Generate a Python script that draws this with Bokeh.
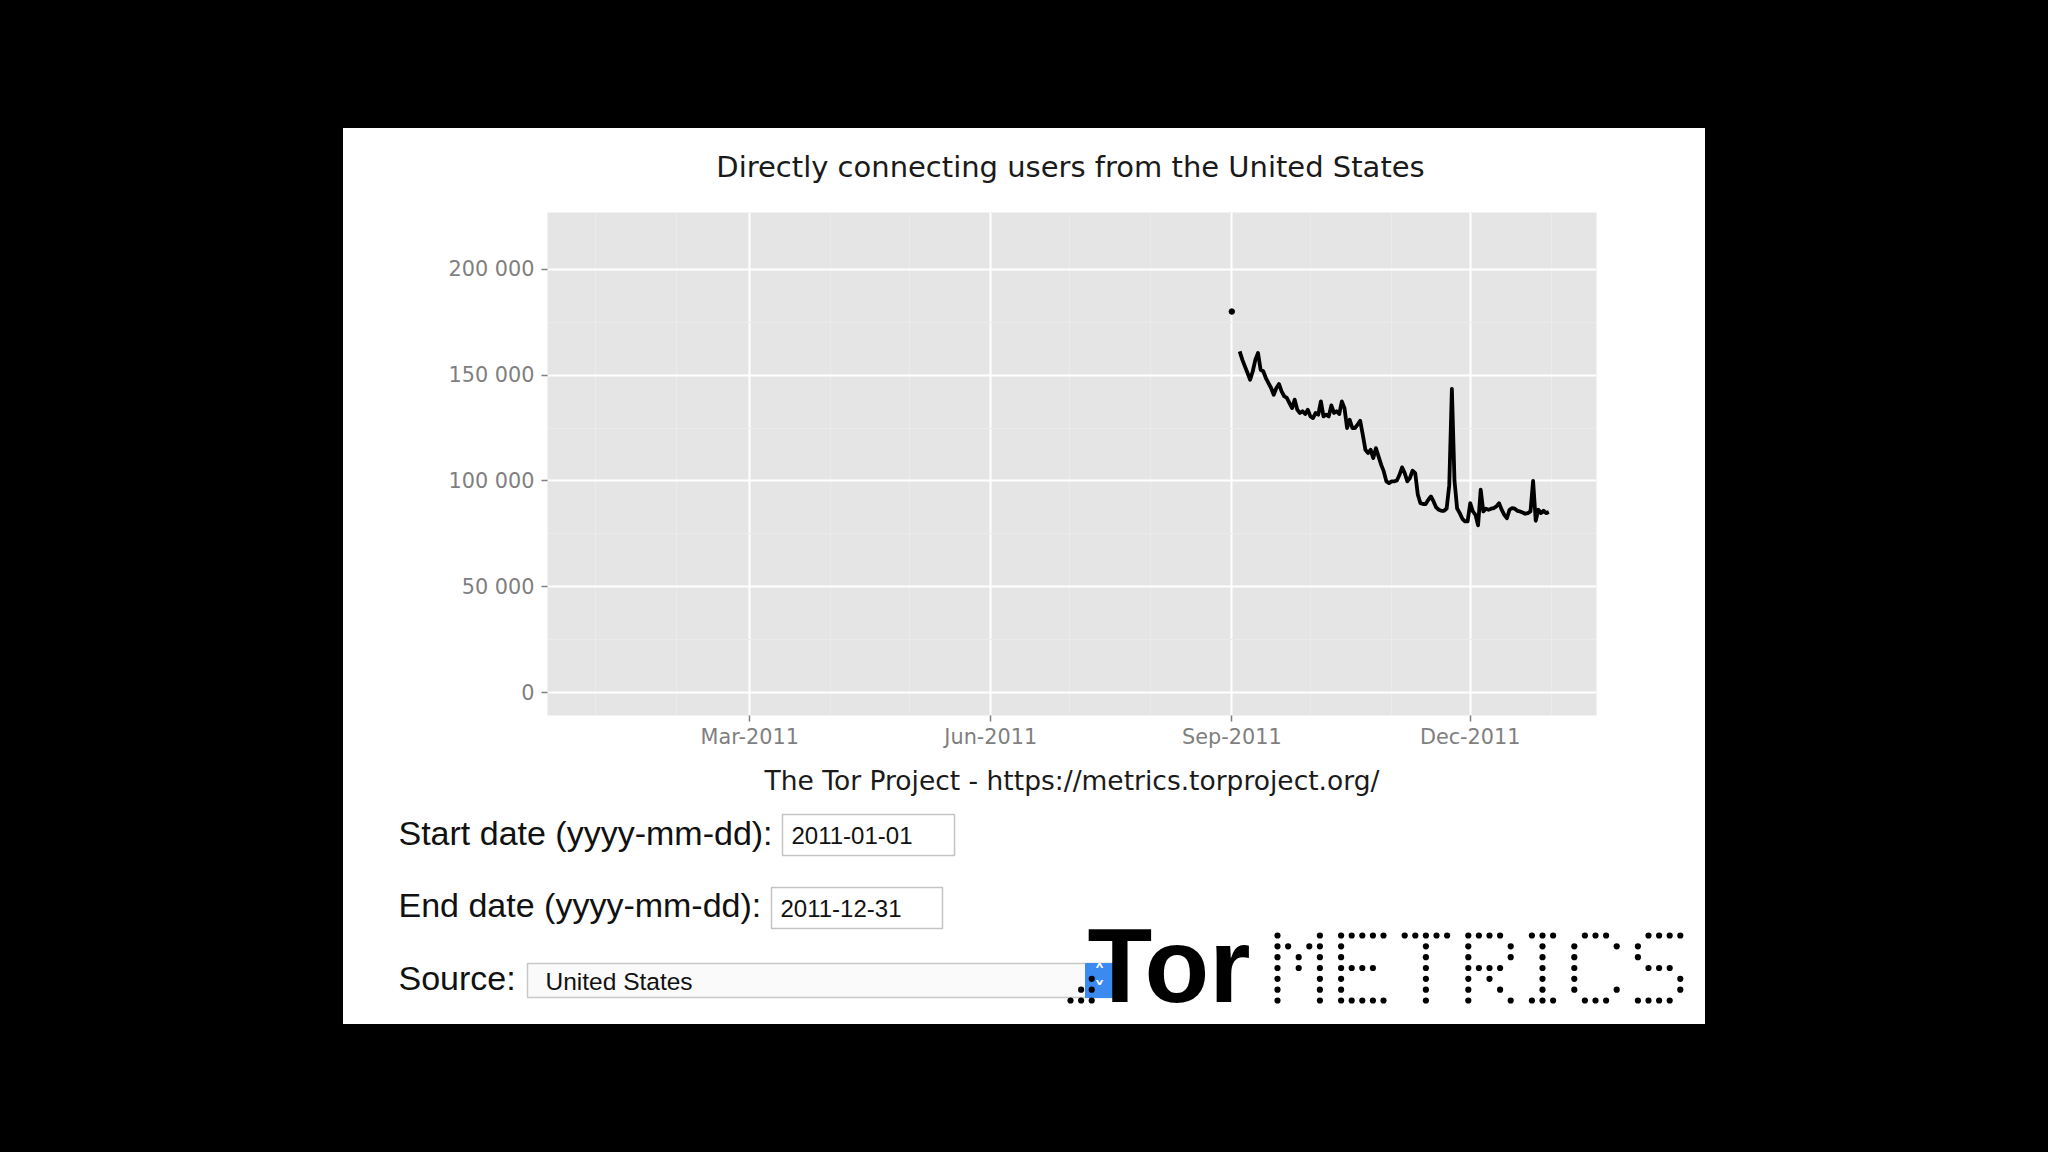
import math
from datetime import datetime

from bokeh.plotting import figure
from bokeh.layouts import column
from bokeh.models import (Range1d, FixedTicker, DatetimeTickFormatter, Label,
                          GlobalInlineStyleSheet)
from bokeh.embed import file_html
from bokeh.resources import INLINE

# ---------------- data ----------------
title_text = "Directly connecting users from the United States"
caption_text = "The Tor Project - https://metrics.torproject.org/"
start_date = "2011-01-01"
end_date = "2011-12-31"
source_name = "United States"

first_day = "2011-09-01"
NA = float("nan")
users = [
    180000, NA, NA, 161200, 157300, 154100, 151000, 147800, 151800, 157300,
    160400, 152500, 151800, 148600, 146200, 143900, 140700, 143900, 145800, 142300,
    140000, 139200, 136800, 134400, 138400, 133600, 132100, 132900, 131600, 133600,
    130500, 129700, 132100, 131300, 137600, 130500, 131300, 130500, 135700, 132100,
    132900, 131600, 137600, 134400, 125000, 128900, 125000, 125000, 126600, 128400,
    121800, 114700, 113200, 114700, 110800, 115500, 111600, 107700, 104500, 99800,
    99000, 99800, 99800, 100200, 102900, 106400, 103700, 99800, 101400, 104800,
    103700, 93500, 89500, 89100, 89100, 91100, 92700, 90300, 87500, 86400,
    85900, 85900, 87000, 98000, 143500, 100000, 87000, 84800, 82100, 80900,
    80900, 89500, 85600, 84000, 79000, 95900, 85600, 86900, 86400, 86900,
    87200, 88000, 89500, 86400, 84000, 82400, 86400, 87200, 86900, 85900,
    85600, 85100, 84500, 84800, 85600, 100000, 81200, 86400, 84800, 85900,
    84800, 85300,
]

y_ticks = [0, 50000, 100000, 150000, 200000]
y_tick_labels = ["0", "50 000", "100 000", "150 000", "200 000"]
y_minor_ticks = [25000, 75000, 125000, 175000]

x_ticks = ["2011-03-01", "2011-06-01", "2011-09-01", "2011-12-01"]
x_tick_labels = ["Mar-2011", "Jun-2011", "Sep-2011", "Dec-2011"]
x_minor_ticks = ["2011-01-01", "2011-02-01", "2011-04-01", "2011-05-01",
                 "2011-07-01", "2011-08-01", "2011-10-01", "2011-11-01",
                 "2012-01-01"]


def ms(s):
    return (datetime.strptime(s, "%Y-%m-%d") - datetime(1970, 1, 1)).total_seconds() * 1000.0


DAY = 86400000.0
d0 = ms(first_day)
xs = [d0 + i * DAY for i in range(len(users))]

# ggplot-like ranges (5 % expansion)
span = ms(end_date) - ms(start_date)
x0, x1 = ms(start_date) - 0.05 * span, ms(end_date) + 0.05 * span
ymax = 1.2 * max(v for v in users if not math.isnan(v))
y0, y1 = -0.05 * ymax, 1.05 * ymax

W = 1362
OX, OY = 343, 128  # page position of the white panel
HT = 84            # title strip height
H1 = 596           # chart figure height
FL, FR, FB = 204, 109, 93


def strip(height, top):
    f = figure(width=W, height=height, x_range=Range1d(OX, OX + W),
               y_range=Range1d(top + height, top),
               output_backend="svg", toolbar_location=None,
               x_axis_location=None, y_axis_location=None,
               min_border=0, min_border_left=0, min_border_right=0,
               min_border_top=0, min_border_bottom=0,
               background_fill_color="white", border_fill_color="white",
               frame_align=False)
    f.outline_line_color = None
    f.grid.visible = False
    return f


def lab(f, px, py, text, size, font="Liberation Sans", color="#111111",
        align="left", baseline="middle", style="normal"):
    f.add_layout(Label(x=px, y=py, text=text, text_font=font,
                       text_font_size=f"{size}px", text_color=color,
                       text_align=align, text_baseline=baseline,
                       text_font_style=style))


# ---------------- title strip ----------------
t = strip(HT, OY)
lab(t, 1070, 166, title_text, 29, font="DejaVu Sans", color="#1a1a1a", align="center")

# ---------------- chart figure ----------------
p = figure(width=W, height=H1, x_axis_type="datetime",
           x_range=Range1d(x0, x1), y_range=Range1d(y0, y1),
           output_backend="svg", toolbar_location=None,
           min_border_left=FL, min_border_top=0,
           min_border_right=FR, min_border_bottom=FB,
           background_fill_color="#E5E5E5", border_fill_color="white",
           frame_align=False)
p.outline_line_color = None

xa, ya = p.xaxis[0], p.yaxis[0]
xa.ticker = FixedTicker(ticks=[ms(v) for v in x_ticks],
                        minor_ticks=[ms(v) for v in x_minor_ticks])
fmt = "%b-%Y"
xa.formatter = DatetimeTickFormatter(milliseconds=fmt, seconds=fmt, minsec=fmt,
                                     minutes=fmt, hourmin=fmt, hours=fmt, days=fmt,
                                     months=fmt, years=fmt)
xa.major_label_overrides = {ms(v): l for v, l in zip(x_ticks, x_tick_labels)}
ya.ticker = FixedTicker(ticks=y_ticks, minor_ticks=y_minor_ticks)
ya.major_label_overrides = {v: l for v, l in zip(y_ticks, y_tick_labels)}

for ax in (xa, ya):
    ax.axis_line_color = None
    ax.major_tick_line_color = "#7F7F7F"
    ax.major_tick_line_width = 1.5
    ax.major_tick_out = 6
    ax.major_tick_in = 0
    ax.minor_tick_line_color = None
    ax.major_label_text_color = "#7F7F7F"
    ax.major_label_text_font = "DejaVu Sans"
    ax.major_label_text_font_size = "20.8px"
xa.major_label_standoff = 3
ya.major_label_standoff = 7

xa.axis_label = caption_text
xa.axis_label_text_font = "DejaVu Sans"
xa.axis_label_text_font_size = "26.5px"
xa.axis_label_text_font_style = "normal"
xa.axis_label_text_color = "#1a1a1a"
xa.axis_label_standoff = 13

for g in (p.xgrid[0], p.ygrid[0]):
    g.grid_line_color = "white"
    g.grid_line_width = 2
    g.minor_grid_line_color = "#EBEBEB"
    g.minor_grid_line_width = 1.2

p.line(x=xs, y=users, line_color="black", line_width=3.8, line_join="round")
iso = [i for i in range(len(users)) if not math.isnan(users[i])
       and (i == 0 or math.isnan(users[i - 1]))
       and (i == len(users) - 1 or math.isnan(users[i + 1]))]
p.scatter(x=[xs[i] for i in iso], y=[users[i] for i in iso], size=5.5,
          fill_color="black", line_color="black")

# ---------------- form / logo strip (page-pixel coordinates) ----------------
Y2 = OY + HT + H1
H2 = 1024 - Y2
q = strip(H2, Y2)


def box(l, tp, r, b, fill="white", line="#C4C4C4", lw=1.5):
    q.quad(left=l, right=r, top=tp, bottom=b, fill_color=fill,
           line_color=line, line_width=lw)


box(782, 814, 954, 855)
box(771, 887, 942, 928)
box(527, 963, 1113, 997, fill="#FAFAFA", line="#C8C8C8")
box(1085, 963, 1113, 997, fill="#3B8AF0", line="#3B8AF0", lw=1)

lab(q, 398, 832, "Start date (yyyy-mm-dd):", 34)
lab(q, 791, 835, start_date, 24)
lab(q, 398, 904, "End date (yyyy-mm-dd):", 34)
lab(q, 780, 908, end_date, 24)
lab(q, 398, 977, "Source:", 34)
lab(q, 545, 981, source_name, 24.5)
lab(q, 1099, 972, "\u02C4", 22, font="DejaVu Sans", color="white", align="center", style="bold")
lab(q, 1099, 989, "\u02C5", 22, font="DejaVu Sans", color="white", align="center", style="bold")

# logo: dotted "." + bold "Tor" + dot-matrix "METRICS"
PX, PY = 10.6, 10.83
glyphs = {
    "M": ["x...x", "xx.xx", "x.x.x", "x.x.x", "x...x", "x...x", "x...x"],
    "E": ["xxxxx", "x....", "x....", "xxxx.", "x....", "x....", "xxxxx"],
    "T": ["xxxxx", "..x..", "..x..", "..x..", "..x..", "..x..", "..x.."],
    "R": ["xxxx.", "x...x", "x...x", "xxxx.", "x.x..", "x..x.", "x...x"],
    "I": ["xxx", ".x.", ".x.", ".x.", ".x.", ".x.", "xxx"],
    "C": [".xxx.", "x...x", "x....", "x....", "x....", "x...x", ".xxx."],
    "S": [".xxxx", "x....", "x....", ".xxx.", "....x", "....x", "xxxx."],
}
dots_x, dots_y = [], []
tri = ["..x", ".xx", "xxx"]
for r, row in enumerate(tri):
    for c, ch in enumerate(row):
        if ch == "x":
            dots_x.append(1070 + c * PX)
            dots_y.append(935 + (r + 4) * PY)
for r in range(7):
    row = ".".join(glyphs[ch][r] for ch in "METRICS")
    for c, ch in enumerate(row):
        if ch == "x":
            dots_x.append(1277 + c * PX)
            dots_y.append(935 + r * PY)
q.scatter(x=dots_x, y=dots_y, size=6.2, fill_color="black", line_color=None)

lab(q, 1087, 964, "Tor", 106, font="Liberation Sans", color="black", style="bold")

layout = column(t, p, q, spacing=0, margin=(OY, 0, 0, OX),
                styles={"background-color": "white"},
                stylesheets=[GlobalInlineStyleSheet(css="html, body { background-color: #000000; }")])

open("out.html", "w").write(file_html(layout, INLINE))
